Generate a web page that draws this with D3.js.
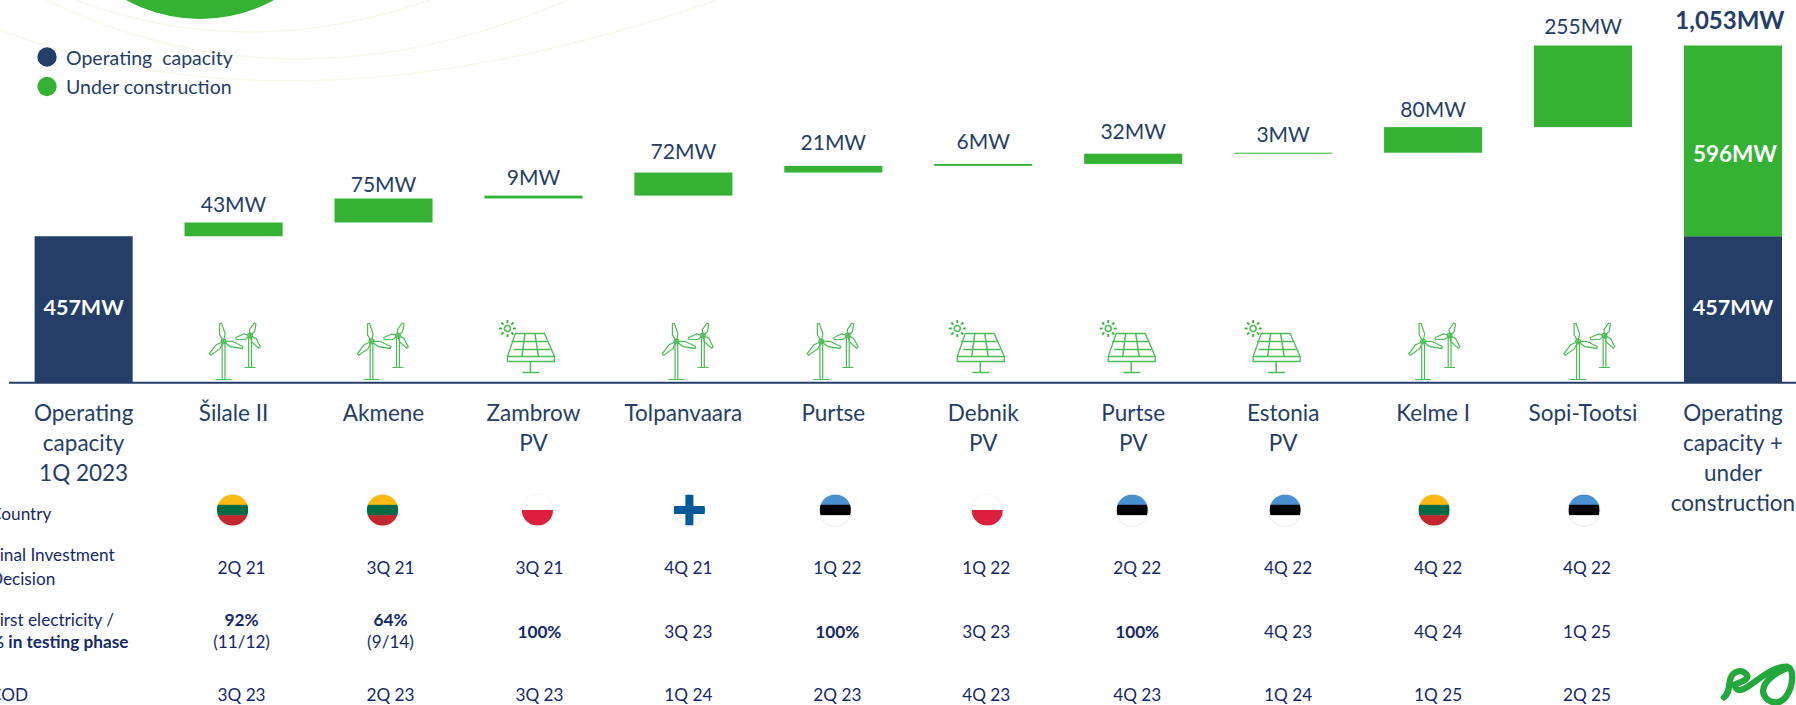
<!DOCTYPE html>
<html>
<head>
<meta charset="utf-8">
<script src="https://cdnjs.cloudflare.com/ajax/libs/d3/7.8.5/d3.min.js"></script>
<style>
html,body{margin:0;padding:0;background:#fff;overflow:hidden}
svg{display:block}
text{font-family:Lato,"Open Sans",sans-serif;white-space:pre}
</style>
</head>
<body>
<svg id="c" width="1796" height="705"></svg>
<script>
const categories = ["Operating capacity 1Q 2023","Šilale II","Akmene","Zambrow PV","Tolpanvaara","Purtse","Debnik PV","Purtse PV","Estonia PV","Kelme I","Sopi-Tootsi","Operating capacity + under construction"];
const categoryLines = [["Operating","capacity","1Q 2023"],["Šilale II"],["Akmene"],["Zambrow","PV"],["Tolpanvaara"],["Purtse"],["Debnik","PV"],["Purtse","PV"],["Estonia","PV"],["Kelme I"],["Sopi-Tootsi"],["Operating","capacity +","under","construction"]];
const operatingCapacity = 457;
const underConstruction = [43,75,9,72,21,6,32,3,80,255];
const underConstructionTotal = 596;
const grandTotal = 1053;
const projects = categories.slice(1,11);
const technology = ["wind","wind","solar","wind","wind","solar","solar","solar","wind","wind"];
const country = ["LT","LT","PL","FI","EE","PL","EE","EE","LT","EE"];
const fid = ["2Q 21","3Q 21","3Q 21","4Q 21","1Q 22","1Q 22","2Q 22","4Q 22","4Q 22","4Q 22"];
const firstElectricity = [["92%","(11/12)"],["64%","(9/14)"],["100%"],["3Q 23"],["100%"],["3Q 23"],["100%"],["4Q 23"],["4Q 24"],["1Q 25"]];
const cod = ["3Q 23","2Q 23","3Q 23","1Q 24","2Q 23","4Q 23","4Q 23","1Q 24","1Q 25","2Q 25"];
const legendItems = ["Operating  capacity","Under construction"];

// layout (not data)
const labelGap = [19,15,19,22,24,23,23,19,19,20];
const iconShift = [1,-1,-7,4,-1,-7,-6,-11,1,6];
const flagShift = [-1,-1,4,6,2,4,-1,2,1,1];
const cellShift = [8,7,6,5,4,3,4,5,5,4];

const NAVY="#253e68", GREEN="#35b234", INK="#14296b", LINE="#4bbd55";
const svg=d3.select("#c");
const x=d3.scaleBand().domain(categories).range([34.6,1782]).paddingInner(0.346).paddingOuter(0);
const y=d3.scaleLinear().domain([0,grandTotal]).range([382.5,45.5]);
const cx=c=>x(c)+x.bandwidth()/2;

function label(g,px,py,str,size,fill,weight,anchor){
  return g.append("text")
    .attr("x",px).attr("y",py)
    .attr("text-anchor",anchor||"middle").attr("dominant-baseline","central")
    .attr("font-size",size).attr("fill",fill).attr("font-weight",weight||400).text(str);
}

// backdrop
const bg=svg.append("g");
const arc=d3.arc().innerRadius(0).outerRadius(154).startAngle(0).endAngle(2*Math.PI);
bg.append("path").attr("d",arc()).attr("transform","translate(200,-135)").attr("fill",GREEN);
["M75 0Q247 64 430 0","M46 0Q290 118 568 0","M0 30Q300 145 717 0"].forEach(d=>
  bg.append("path").attr("d",d).attr("fill","none").attr("stroke","#f7f9e8").attr("stroke-width",1.5));

// legend
[NAVY,GREEN].forEach((col,i)=>{
  const py=57+i*29.5;
  svg.append("circle").attr("cx",47).attr("cy",py).attr("r",9.7).attr("fill",col);
  label(svg,66,py,legendItems[i],19.5,NAVY,400,"start");
});

// bars
svg.append("rect").attr("x",x(categories[0])).attr("width",x.bandwidth())
  .attr("y",y(operatingCapacity)).attr("height",y(0)-y(operatingCapacity)).attr("fill",NAVY);
let cum=operatingCapacity;
const steps=underConstruction.map(v=>{const s={from:cum,to:cum+v,v};cum+=v;return s;});
svg.selectAll("rect.step").data(steps).join("rect").attr("class","step")
  .attr("x",(d,i)=>x(projects[i])).attr("width",x.bandwidth())
  .attr("y",d=>y(d.to)).attr("height",d=>Math.max(1,y(d.from)-y(d.to))).attr("fill",GREEN);
const last=categories[11];
svg.append("rect").attr("x",x(last)).attr("width",x.bandwidth()).attr("y",y(operatingCapacity)).attr("height",y(0)-y(operatingCapacity)).attr("fill",NAVY);
svg.append("rect").attr("x",x(last)).attr("width",x.bandwidth()).attr("y",y(operatingCapacity+underConstructionTotal)).attr("height",y(operatingCapacity)-y(operatingCapacity+underConstructionTotal)).attr("fill",GREEN);

// value labels
steps.forEach((s,i)=>label(svg,cx(projects[i]),y(s.to)-labelGap[i],s.v+"MW",21,NAVY));
label(svg,cx(categories[0]),307,operatingCapacity+"MW",21.5,"#fff",700);
label(svg,cx(last),307,operatingCapacity+"MW",21.5,"#fff",700);
label(svg,cx(last)+2,153,underConstructionTotal+"MW",22.5,"#fff",700);
label(svg,cx(last)-3,19,d3.format(",")(grandTotal)+"MW",24,NAVY,700);

// category axis
const axis=svg.append("g").attr("transform","translate(0,382.7)").call(d3.axisBottom(x).tickSize(0));
axis.select(".domain").remove();
axis.selectAll(".tick text").remove();
axis.selectAll(".tick").each(function(c,i){
  const g=d3.select(this);
  categoryLines[i].forEach((t,k)=>label(g,0,30+k*30,t,22.5,NAVY));
});
svg.append("line").attr("x1",9).attr("x2",1796).attr("y1",382.7).attr("y2",382.7).attr("stroke",NAVY).attr("stroke-width",2);

// icons
function windIcon(g){
  const turbine=(hx,hy,base,blades,baseW)=>{
    g.append("path").attr("d",`M${hx-1.4} ${hy+2}L${hx-1.4} ${base}M${hx+1.4} ${hy+2}L${hx+1.4} ${base}M${hx-baseW} ${base}L${hx+baseW} ${base}`);
    g.append("circle").attr("cx",hx).attr("cy",hy).attr("r",2.4);
    blades.forEach(([tx,ty])=>{
      const dx=tx-hx,dy=ty-hy,len=Math.hypot(dx,dy),nx=-dy/len,ny=dx/len,mx=hx+dx*.4,my=hy+dy*.4;
      g.append("path").attr("d",`M${hx} ${hy}L${mx+nx*2.8} ${my+ny*2.8}L${tx+nx*1} ${ty+ny*1}L${tx-nx*1} ${ty-ny*1}L${mx-nx*2.8} ${my-ny*2.8}Z`);
    });
  };
  turbine(-11,-39,-1,[[-14,-57],[8,-33],[-24.5,-26]],8);
  turbine(15.5,-45,-13,[[20.5,-57],[1.5,-42],[25,-33]],5.5);
}
function solarIcon(g){
  g.attr("stroke-width",1.3);
  g.append("path").attr("d","M-11 -47H18L28 -24V-19H-19V-24Z");
  g.append("path").attr("d","M-19 -24H28M-15 -39H21M-13 -31H24M-1.5 -47L-4.5 -24M8.5 -47L12 -24M4 -19V-8M-4 -8H13").attr("stroke-width",1.5);
  g.append("circle").attr("cx",-19).attr("cy",-52).attr("r",3).attr("stroke-width",1.5);
  d3.range(8).forEach(k=>{
    const a=k*Math.PI/4,c=Math.cos(a),s=Math.sin(a);
    g.append("line").attr("x1",-19+c*5.5).attr("y1",-52+s*5.5).attr("x2",-19+c*8.5).attr("y2",-52+s*8.5).attr("stroke",GREEN).attr("stroke-width",1.8);
  });
}
projects.forEach((p,i)=>{
  const g=svg.append("g").attr("transform",`translate(${cx(p)+iconShift[i]},380.5)`)
    .attr("fill","none").attr("stroke",LINE).attr("stroke-width",1.2);
  (technology[i]==="wind"?windIcon:solarIcon)(g);
});

// flags
const defs=svg.append("defs");
const flagBands={LT:["#fdb913","#006a44","#c1272d"],EE:["#4a90d0","#000000","#ffffff"]};
projects.forEach((p,i)=>{
  const fx=cx(p)+flagShift[i],fy=510,r=15.6,id="f"+i;
  defs.append("clipPath").attr("id",id).append("circle").attr("cx",fx).attr("cy",fy).attr("r",r);
  svg.append("circle").attr("cx",fx).attr("cy",fy+.7).attr("r",r+1).attr("fill","#f3f3f3");
  const g=svg.append("g").attr("clip-path",`url(#${id})`);
  const rect=(a,b,w,h,col)=>g.append("rect").attr("x",a).attr("y",b).attr("width",w).attr("height",h).attr("fill",col);
  const code=country[i];
  if(flagBands[code]) flagBands[code].forEach((col,k)=>rect(fx-r,fy-r+k*2*r/3,2*r,2*r/3+.5,col));
  else if(code==="PL"){rect(fx-r,fy-r,2*r,r,"#fff");rect(fx-r,fy,2*r,r,"#dc1e3f");}
  else {rect(fx-r,fy-r,2*r,2*r,"#fff");rect(fx-r,fy-4,2*r,8,"#005a9a");rect(fx-4,fy-r,8,2*r,"#005a9a");}
});

// table
const rowX=-10, T=17.2;
label(svg,rowX,513,"Country",T,INK,400,"start");
label(svg,rowX,554,"Final Investment",T,INK,400,"start");
label(svg,rowX,578,"Decision",T,INK,400,"start");
label(svg,rowX,619,"First electricity /",T,INK,400,"start");
label(svg,rowX,641,"% in testing phase",T,INK,700,"start");
label(svg,rowX,694,"COD",T,INK,400,"start");
projects.forEach((p,i)=>{
  const tx=cx(p)+cellShift[i];
  label(svg,tx,567,fid[i],T,INK);
  label(svg,tx,694,cod[i],T,INK);
  const fe=firstElectricity[i];
  if(fe.length===2){label(svg,tx,619,fe[0],T,INK,700);label(svg,tx,641,fe[1],T,INK);}
  else label(svg,tx,631,fe[0],T,INK,fe[0].includes("%")?700:400);
});

// logo
svg.append("g").attr("transform","translate(1700,650) scale(.3333)").append("path")
  .attr("d","M72 142C92 126 84 104 92 84C102 60 128 58 140 74C150 90 118 96 104 104C108 130 130 122 158 100C190 76 226 48 262 50C284 58 280 110 258 140C238 168 200 160 190 130C184 100 220 70 262 54")
  .attr("fill","none").attr("stroke","#23a83c").attr("stroke-width",19).attr("stroke-linecap","round").attr("stroke-linejoin","round");
</script>
</body>
</html>
